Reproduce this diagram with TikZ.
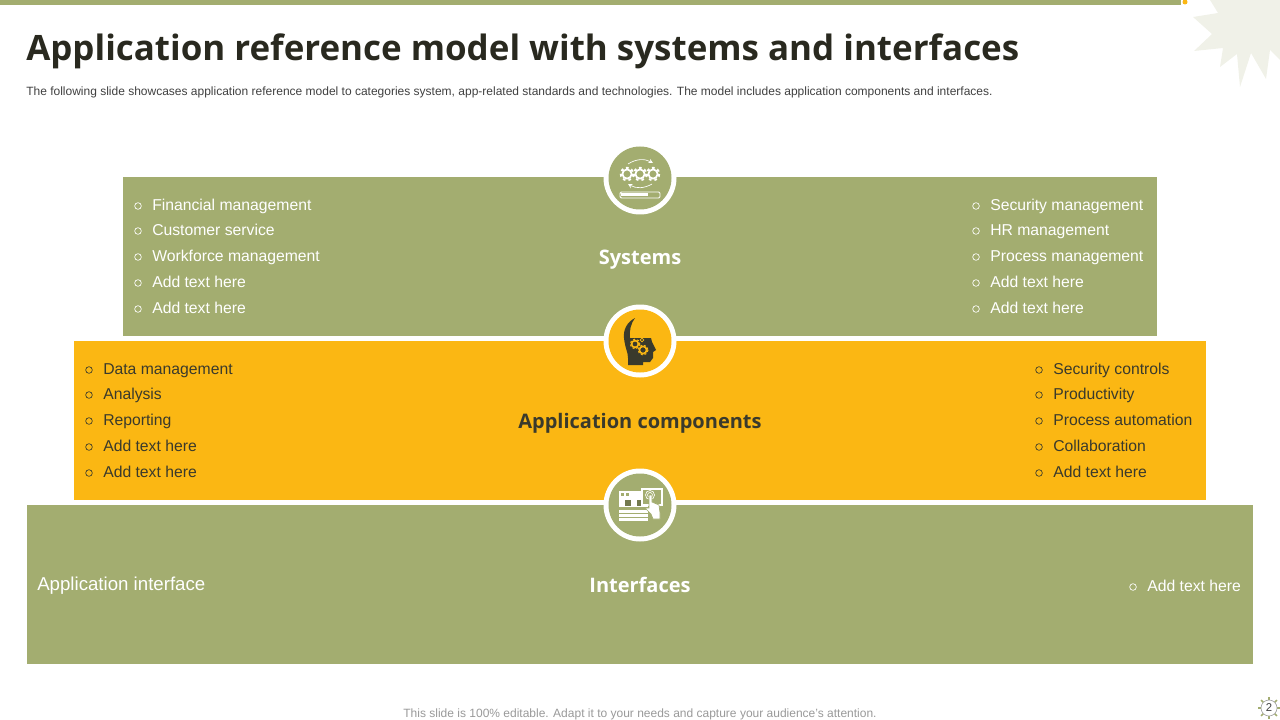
\documentclass[tikz,border=0pt]{standalone}
\usepackage{fontspec}
\setmainfont{Liberation Sans}
\newfontfamily\titlefont{Open Sans}
\definecolor{olive}{HTML}{A3AD70}
\definecolor{amber}{HTML}{FBB713}
\definecolor{darktext}{HTML}{3A3A2C}
\definecolor{burst}{HTML}{F0F1E8}
\newcommand{\gearicon}[2]{
	\draw[white, line width = 1.5, dash pattern = on 2 off 2.2] (#1, #2) circle (6.2);
	\draw[white, line width = 1.3] (#1, #2) circle (4.6);
}
\begin{document}
\begin{tikzpicture}[x = 0.75pt, y = -0.75pt]
	\tikzset{
		band/.style = {anchor = north west, inner sep = 0, outer sep = 0},
		ring/.style = {circle, fill = white, minimum size = 73*0.75pt, inner sep = 0},
		listtext/.style = {anchor = base west, inner sep = 0, font = \fontsize{11.8pt}{14pt}\selectfont},
		listmark/.style = {circle, draw, line width = 0.5pt, minimum size = 5pt, inner sep = 0},
		heading/.style = {anchor = base, inner sep = 0, font = \titlefont\fontsize{15pt}{18pt}\selectfont\bfseries}
	}
	\useasboundingbox (0, 0) rectangle (1280, 720);

	% Top bar and corner burst
	\fill[burst] (1210, 0) -- (1218, 13) -- (1193, 17) -- (1212, 34) -- (1194, 51) -- (1223, 48) -- (1220, 67) -- (1237, 54) -- (1240, 87) -- (1251, 53) -- (1266, 79) -- (1270, 50) -- (1280, 60) -- (1280, 0) -- cycle;
	\fill[olive] (0, 0) rectangle (1181, 5);
	\fill[amber] (1185, 2) circle (2.5);

	% Title and subtitle
	\node[anchor = base west, inner sep = 0, text = darktext!70!black, font = \titlefont\fontsize{26.2pt}{30pt}\selectfont\bfseries] (title) at (26, 60.5) {Application reference model with systems and interfaces};
	\node[anchor = base west, inner sep = 0, text = black!75, font = \fontsize{9pt}{11pt}\selectfont] (subtitle) at (26, 96) {The following slide showcases application reference model to categories system, app-related standards and technologies. The model includes application components and interfaces.};

	% Three bands
	\node[band, fill = olive, minimum width = 1034*0.75pt, minimum height = 159*0.75pt] (systems) at (123, 177) {};
	\node[band, fill = amber, minimum width = 1132*0.75pt, minimum height = 159*0.75pt] (components) at (74, 341) {};
	\node[band, fill = olive, minimum width = 1226*0.75pt, minimum height = 159*0.75pt] (interfaces) at (27, 505) {};

	% Band headings
	\node[heading, text = white] (systemsLabel) at (640, 264.5) {Systems};
	\node[heading, text = darktext] (componentsLabel) at (640, 428.5) {Application components};
	\node[heading, text = white] (interfacesLabel) at (640, 592.5) {Interfaces};

	% Lists
	\foreach \i/\y/\txt in {1/205/Financial management, 2/230/Customer service, 3/256/Workforce management, 4/282/Add text here, 5/308/Add text here}{
		\node[listmark, draw = white] (sysLeftMark\i) at (138, \y + 1) {};
		\node[listtext, text = white] (sysLeft\i) at (152, \y + 5.5) {\txt};
	}
	\foreach \i/\y/\txt in {1/205/Security management, 2/230/HR management, 3/256/Process management, 4/282/Add text here, 5/308/Add text here}{
		\node[listmark, draw = white] (sysRightMark\i) at (976, \y + 1) {};
		\node[listtext, text = white] (sysRight\i) at (990, \y + 5.5) {\txt};
	}
	\foreach \i/\y/\txt in {1/369/Data management, 2/394/Analysis, 3/420/Reporting, 4/446/Add text here, 5/472/Add text here}{
		\node[listmark, draw = darktext] (appLeftMark\i) at (89, \y + 1) {};
		\node[listtext, text = darktext] (appLeft\i) at (103, \y + 5.5) {\txt};
	}
	\foreach \i/\y/\txt in {1/369/Security controls, 2/394/Productivity, 3/420/Process automation, 4/446/Collaboration, 5/472/Add text here}{
		\node[listmark, draw = darktext] (appRightMark\i) at (1039, \y + 1) {};
		\node[listtext, text = darktext] (appRight\i) at (1053, \y + 5.5) {\txt};
	}
	\node[listtext, text = white, font = \fontsize{14pt}{16pt}\selectfont] (appInterface) at (37, 590) {Application interface};
	\node[listmark, draw = white] (addMark) at (1133, 587) {};
	\node[listtext, text = white] (addText) at (1147, 591) {Add text here};

	% Icon discs
	\node[ring] (systemsDisc) at (640, 178) {};
	\node[ring] (componentsDisc) at (640, 341) {};
	\node[ring] (interfacesDisc) at (640, 505) {};
	\fill[olive] (systemsDisc) circle (31.5);
	\fill[amber] (componentsDisc) circle (31.5);
	\fill[olive] (interfacesDisc) circle (31.5);

	% Gears icon
	\gearicon{627}{174}
	\gearicon{640}{174}
	\gearicon{653}{174}
	\draw[white, line width = 0.5pt, -stealth] (628, 164) to[bend left = 30] (653, 163);
	\draw[white, line width = 0.5pt, -stealth] (652, 184) to[bend left = 30] (628, 184);
	\draw[white, line width = 0.7pt, rounded corners = 1] (620, 192) rectangle (660, 198);
	\fill[white] (621, 193.5) rectangle (648, 196.5);

	% Head icon
	\fill[darktext] (635, 318) .. controls (627, 322) and (623, 330) .. (624, 338) .. controls (625, 348) and (628, 352) .. (628, 358) -- (628, 365) -- (643, 365) -- (643, 362) -- (650, 362) -- (653, 358) -- (653, 352) -- (656, 350) -- (652, 342) -- (651, 338) -- (630, 338) .. controls (629, 331) and (631, 323) .. (635, 318) -- cycle;
	\draw[amber, line width = 1.2] (635, 344) circle (3.4);
	\draw[amber, line width = 1.2] (643, 350) circle (3.6);
	\draw[amber, line width = 0.8, dash pattern = on 1.5 off 1.5] (635, 344) circle (4.8);
	\draw[amber, line width = 0.8, dash pattern = on 1.5 off 1.5] (643, 350) circle (5);
	\draw[amber, line width = 0.5pt] (642, 340) circle (1.8);

	% Window and touch icon
	\fill[white] (619, 491) rectangle (648, 521);
	\fill[olive] (619, 507) rectangle (648, 509.5);
	\fill[olive] (621, 493) rectangle (624, 495.5);
	\fill[olive] (626, 493) rectangle (629, 495.5);
	\fill[olive!70!black] (625, 500) rectangle (631, 506);
	\fill[olive!70!black] (637, 500) rectangle (643, 506);
	\foreach \y in {512.5, 516.5}{
		\fill[olive] (619, \y) rectangle (648, \y + 1.5);
	}
	\draw[white, fill = olive, line width = 1.4] (642, 489) rectangle (662, 505);
	\draw[white, line width = 0.5pt] (650, 495) circle (4.5);
	\draw[white, line width = 0.5pt] (650, 495) circle (2.5);
	\fill[white, draw = olive, line width = 0.5pt] (649, 495) -- (652, 495) -- (652, 502) -- (659, 505) -- (660, 513) -- (660, 519) -- (653, 519) -- (651, 514) -- (645, 508) -- (649, 508) -- cycle;

	% Footer and page number
	\node[anchor = base, inner sep = 0, text = black!40, font = \fontsize{9pt}{11pt}\selectfont] (footer) at (640, 717) {This slide is 100\% editable. Adapt it to your needs and capture your audience's attention.};
	\foreach \a in {0, 45, ..., 315}{
		\draw[olive, line width = 1.2] (1269, 708) ++(\a:8) -- ++(\a:3.2);
	}
	\node[circle, draw = gray!70, fill = white, line width = 0.5pt, minimum size = 12pt, inner sep = 0, text = black!75, font = \fontsize{8.5pt}{9pt}\selectfont] (pageNumber) at (1269, 708) {2};
\end{tikzpicture}
\end{document}
